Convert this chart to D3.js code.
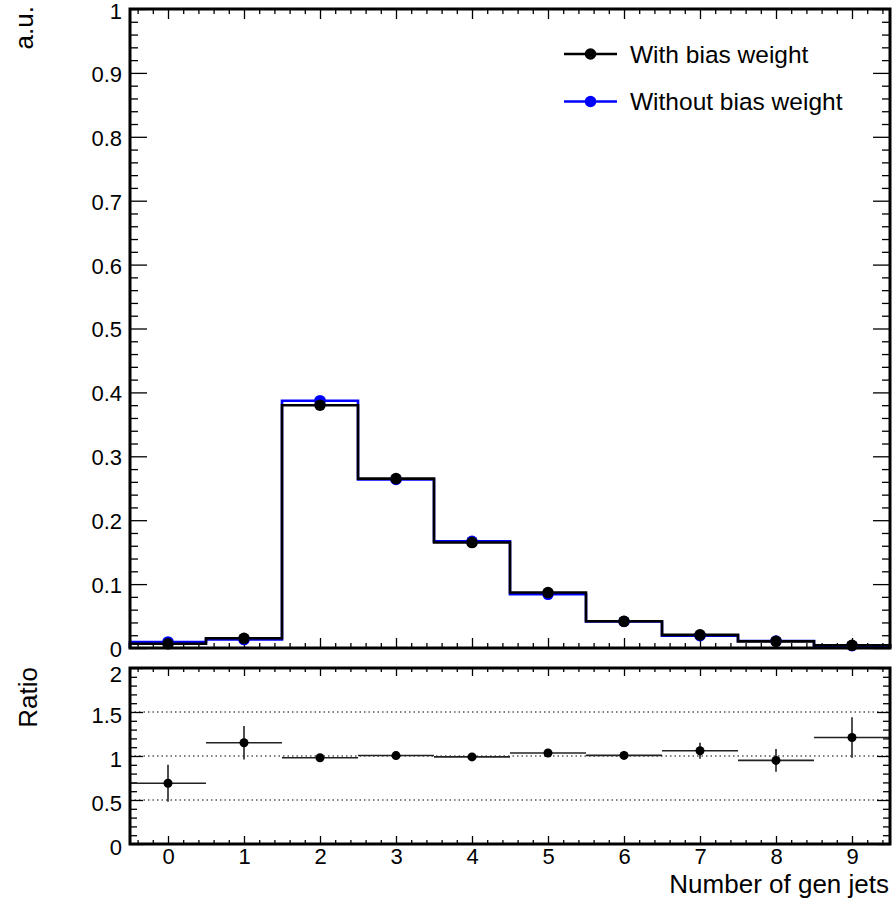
<!DOCTYPE html>
<html>
<head>
<meta charset="utf-8">
<script src="https://cdn.jsdelivr.net/npm/d3@7"></script>
<style>
  html, body { margin: 0; padding: 0; background: #fff; }
  svg { display: block; }
  text { font-family: "Liberation Sans", Arial, Helvetica, sans-serif; fill: #000; }
</style>
</head>
<body>
<svg id="chart" width="894" height="901"></svg>
<script>
// Jet multiplicity bins (bin centres)
const nJets = [0, 1, 2, 3, 4, 5, 6, 7, 8, 9];
// Normalised distributions
const withBias    = [0.0066, 0.0152, 0.380, 0.265, 0.165, 0.0868, 0.0418, 0.0206, 0.0104, 0.0042];
const withBiasErr = [0.0020, 0.0020, 0.0050, 0.0030, 0.0020, 0.0015, 0.0010, 0.0010, 0.0008, 0.0006];
const withoutBias = [0.0095, 0.0132, 0.387, 0.2637, 0.1668, 0.0840, 0.0415, 0.0194, 0.0109, 0.0035];
// Ratio with / without and its uncertainty
const ratio    = [0.69, 1.15, 0.98, 1.005, 0.99, 1.034, 1.007, 1.06, 0.95, 1.21];
const ratioErr = [0.21, 0.19, 0.012, 0.012, 0.012, 0.02, 0.04, 0.09, 0.13, 0.23];
// Tick labels
const xTickLabels = ["0", "1", "2", "3", "4", "5", "6", "7", "8", "9"];
const yMainTicks = [0, 0.1, 0.2, 0.3, 0.4, 0.5, 0.6, 0.7, 0.8, 0.9, 1];
const yMainTickLabels = ["0", "0.1", "0.2", "0.3", "0.4", "0.5", "0.6", "0.7", "0.8", "0.9", "1"];
const yRatioTicks = [0, 0.5, 1, 1.5, 2];
const yRatioTickLabels = ["0", "0.5", "1", "1.5", "2"];
const ratioGrid = [0.5, 1, 1.5];
const seriesNames = ["With bias weight", "Without bias weight"];
const seriesColors = ["#000000", "#0000ff"];

const svg = d3.select("#chart");

const L = 130, R = 890;
const mainTop = 9, mainBot = 648;
const ratTop = 668, ratBot = 844;

const x = d3.scaleLinear().domain([-0.5, 9.5]).range([L, R]);
const yMain = d3.scaleLinear().domain([0, 1]).range([mainBot, mainTop]);
const yRat = d3.scaleLinear().domain([0, 2]).range([ratBot, ratTop]);

const fmt = (vals, labels) => v => {
  const i = vals.findIndex(t => Math.abs(t - v) < 1e-9);
  return i >= 0 ? labels[i] : "";
};
const range = (a, b, s) => d3.range(Math.round((b - a) / s) + 1).map(i => +(a + i * s).toFixed(6));
const minorOf = (all, majors) => all.filter(v => !majors.some(m => Math.abs(m - v) < 1e-9));

function drawAxis(g, axis) {
  g.call(axis);
  g.select(".domain").remove();
  g.selectAll(".tick line").attr("stroke", "#000").attr("stroke-width", 1.3);
  return g;
}

const xMinor = minorOf(range(-0.4, 9.4, 0.2), nJets);

// ---------- Top panel ----------
const yMainMinor = minorOf(range(0, 1, 0.02), yMainTicks);

// left axis with labels
const gl = drawAxis(svg.append("g").attr("transform", `translate(${L},0)`),
  d3.axisLeft(yMain).tickValues(yMainTicks).tickSize(-17)
    .tickFormat(fmt(yMainTicks, yMainTickLabels)));
gl.selectAll(".tick text").attr("font-size", 22).attr("dy", "0.36em").attr("x", -8)
  .attr("y", d => d === 1 ? 2 : 0.5);
drawAxis(svg.append("g").attr("transform", `translate(${L},0)`),
  d3.axisLeft(yMain).tickValues(yMainMinor).tickSize(-8).tickFormat(""));
// right axis
drawAxis(svg.append("g").attr("transform", `translate(${R},0)`),
  d3.axisRight(yMain).tickValues(yMainTicks).tickSize(-17).tickFormat(""));
drawAxis(svg.append("g").attr("transform", `translate(${R},0)`),
  d3.axisRight(yMain).tickValues(yMainMinor).tickSize(-8).tickFormat(""));
// bottom & top x ticks
drawAxis(svg.append("g").attr("transform", `translate(0,${mainBot})`),
  d3.axisBottom(x).tickValues(nJets).tickSize(-10).tickFormat(""));
drawAxis(svg.append("g").attr("transform", `translate(0,${mainBot})`),
  d3.axisBottom(x).tickValues(xMinor).tickSize(-5).tickFormat(""));
drawAxis(svg.append("g").attr("transform", `translate(0,${mainTop})`),
  d3.axisTop(x).tickValues(nJets).tickSize(-10).tickFormat(""));
drawAxis(svg.append("g").attr("transform", `translate(0,${mainTop})`),
  d3.axisTop(x).tickValues(xMinor).tickSize(-5).tickFormat(""));

// step histograms
function stepPoints(vals) {
  const pts = [[-0.5, 0]];
  vals.forEach((v, i) => { pts.push([nJets[i] - 0.5, v]); pts.push([nJets[i] + 0.5, v]); });
  pts.push([9.5, 0]);
  return pts;
}
const stepLine = d3.line().x(d => x(d[0])).y(d => yMain(d[1]));

svg.append("path").attr("d", stepLine(stepPoints(withoutBias)))
  .attr("fill", "none").attr("stroke", seriesColors[1]).attr("stroke-width", 2.6);
svg.append("path").attr("d", stepLine(stepPoints(withBias)))
  .attr("fill", "none").attr("stroke", seriesColors[0]).attr("stroke-width", 2.6);

// markers
svg.append("g").selectAll("circle").data(withoutBias).join("circle")
  .attr("cx", (d, i) => x(nJets[i])).attr("cy", d => yMain(d)).attr("r", 5.8)
  .attr("fill", seriesColors[1]);
svg.append("g").selectAll("line").data(withBias).join("line")
  .attr("x1", (d, i) => x(nJets[i])).attr("x2", (d, i) => x(nJets[i]))
  .attr("y1", (d, i) => yMain(d + withBiasErr[i])).attr("y2", (d, i) => yMain(Math.max(0, d - withBiasErr[i])))
  .attr("stroke", "#000").attr("stroke-width", 1.5);
svg.append("g").selectAll("circle").data(withBias).join("circle")
  .attr("cx", (d, i) => x(nJets[i])).attr("cy", d => yMain(d)).attr("r", 5.8)
  .attr("fill", seriesColors[0]);

// frame
svg.append("rect").attr("x", L).attr("y", mainTop).attr("width", R - L).attr("height", mainBot - mainTop)
  .attr("fill", "none").attr("stroke", "#000").attr("stroke-width", 3);

// legend
const leg = svg.append("g");
seriesNames.forEach((name, i) => {
  const ly = 54 + i * 47.5;
  leg.append("line").attr("x1", 564).attr("x2", 617).attr("y1", ly).attr("y2", ly)
    .attr("stroke", seriesColors[i]).attr("stroke-width", 2.6);
  leg.append("circle").attr("cx", 590.5).attr("cy", ly).attr("r", 5.8).attr("fill", seriesColors[i]);
  leg.append("text").attr("x", 630).attr("y", ly + 8.6).attr("font-size", 24.5).text(name);
});

// y title
svg.append("text").attr("transform", "translate(33,6) rotate(-90)")
  .attr("text-anchor", "end").attr("font-size", 26).text("a.u.");

// ---------- Ratio panel ----------
const yRatMinor = minorOf(range(0, 2, 0.1), yRatioTicks);

// dotted grid
svg.append("g").selectAll("line").data(ratioGrid).join("line")
  .attr("x1", L).attr("x2", R).attr("y1", d => yRat(d)).attr("y2", d => yRat(d))
  .attr("stroke", "#000").attr("stroke-width", 1.2).attr("stroke-dasharray", "1.5,3");

const rl = drawAxis(svg.append("g").attr("transform", `translate(${L},0)`),
  d3.axisLeft(yRat).tickValues(yRatioTicks).tickSize(-13).tickFormat(fmt(yRatioTicks, yRatioTickLabels)));
rl.selectAll(".tick text").attr("font-size", 22).attr("dy", "0.36em").attr("x", -8)
  .attr("y", d => d === 2 ? 5.5 : 2.5);
drawAxis(svg.append("g").attr("transform", `translate(${L},0)`),
  d3.axisLeft(yRat).tickValues(yRatMinor).tickSize(-7).tickFormat(""));
drawAxis(svg.append("g").attr("transform", `translate(${R},0)`),
  d3.axisRight(yRat).tickValues(yRatioTicks).tickSize(-13).tickFormat(""));
drawAxis(svg.append("g").attr("transform", `translate(${R},0)`),
  d3.axisRight(yRat).tickValues(yRatMinor).tickSize(-7).tickFormat(""));
const rb = drawAxis(svg.append("g").attr("transform", `translate(0,${ratBot})`),
  d3.axisBottom(x).tickValues(nJets).tickSize(-8).tickFormat(fmt(nJets, xTickLabels)));
rb.selectAll(".tick text").attr("font-size", 22).attr("y", 19.5).attr("dy", "0");
drawAxis(svg.append("g").attr("transform", `translate(0,${ratBot})`),
  d3.axisBottom(x).tickValues(xMinor).tickSize(-4).tickFormat(""));
drawAxis(svg.append("g").attr("transform", `translate(0,${ratTop})`),
  d3.axisTop(x).tickValues(nJets).tickSize(-8).tickFormat(""));
drawAxis(svg.append("g").attr("transform", `translate(0,${ratTop})`),
  d3.axisTop(x).tickValues(xMinor).tickSize(-4).tickFormat(""));

// ratio points with errors
const rg = svg.append("g");
rg.selectAll("line.h").data(ratio).join("line").attr("class", "h")
  .attr("x1", (d, i) => x(nJets[i] - 0.5)).attr("x2", (d, i) => x(nJets[i] + 0.5))
  .attr("y1", d => yRat(d)).attr("y2", d => yRat(d))
  .attr("stroke", "#222").attr("stroke-width", 1.6);
rg.selectAll("line.v").data(ratio).join("line").attr("class", "v")
  .attr("x1", (d, i) => x(nJets[i])).attr("x2", (d, i) => x(nJets[i]))
  .attr("y1", (d, i) => yRat(d + ratioErr[i])).attr("y2", (d, i) => yRat(d - ratioErr[i]))
  .attr("stroke", "#222").attr("stroke-width", 1.6);
rg.selectAll("circle").data(ratio).join("circle")
  .attr("cx", (d, i) => x(nJets[i])).attr("cy", d => yRat(d)).attr("r", 4.5).attr("fill", "#000");

svg.append("rect").attr("x", L).attr("y", ratTop).attr("width", R - L).attr("height", ratBot - ratTop)
  .attr("fill", "none").attr("stroke", "#000").attr("stroke-width", 3);

svg.append("text").attr("transform", `translate(37,${ratTop - 1}) rotate(-90)`)
  .attr("text-anchor", "end").attr("font-size", 26).text("Ratio");

svg.append("text").attr("x", 889).attr("y", 892.5).attr("text-anchor", "end")
  .attr("font-size", 26).text("Number of gen jets");
</script>
</body>
</html>
